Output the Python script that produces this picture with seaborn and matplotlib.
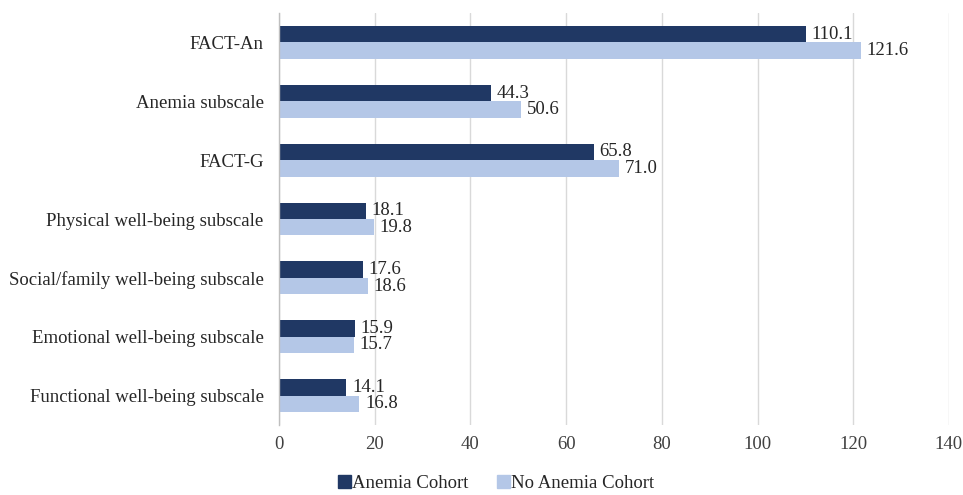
import matplotlib
matplotlib.use("Agg")
import matplotlib.pyplot as plt
from matplotlib.ticker import FixedLocator, MultipleLocator
import pandas as pd
import seaborn as sns

categories = [
    "FACT-An",
    "Anemia subscale",
    "FACT-G",
    "Physical well-being subscale",
    "Social/family well-being subscale",
    "Emotional well-being subscale",
    "Functional well-being subscale",
]
anemia = [110.1, 44.3, 65.8, 18.1, 17.6, 15.9, 14.1]
no_anemia = [121.6, 50.6, 71.0, 19.8, 18.6, 15.7, 16.8]
series_names = ["Anemia Cohort", "No Anemia Cohort"]
colors = ["#203864", "#b4c7e7"]

df = pd.DataFrame({
    "Measure": categories * 2,
    "Score": anemia + no_anemia,
    "Cohort": [series_names[0]] * len(categories) + [series_names[1]] * len(categories),
})

sns.set_theme(style="white")
plt.rcParams["font.family"] = ["Liberation Serif", "DejaVu Serif"]

fig = plt.figure(figsize=(9.63, 4.95), dpi=100)
ax = fig.add_axes([0.2897, 0.1414, 0.6957, 0.8323])

sns.barplot(data=df, x="Score", y="Measure", hue="Cohort", orient="h",
            palette=colors, width=0.56, dodge=True, ax=ax,
            saturation=1, errorbar=None, legend=False, linewidth=0)

for cont in ax.containers:
    ax.bar_label(cont, fmt="%.1f", padding=4, fontsize=13.5, color="#262626")

ax.set_xlim(0, 140)
ax.set_ylim(len(categories) - 0.5, -0.5)
ax.xaxis.set_major_locator(MultipleLocator(20))
ax.grid(axis="x", color="#d9d9d9", linewidth=1)
ax.set_axisbelow(True)
ax.set_xlabel("")
ax.set_ylabel("")

for side in ["top", "right", "bottom"]:
    ax.spines[side].set_visible(False)
ax.spines["left"].set_color("#bfbfbf")
ax.spines["left"].set_linewidth(1)

ax.tick_params(axis="x", length=0, labelsize=13.5, labelcolor="#404040", pad=8)
ax.tick_params(axis="y", which="major", length=0, labelsize=13.5, labelcolor="#262626", pad=11)
ax.yaxis.set_minor_locator(FixedLocator([i - 0.5 for i in range(len(categories) + 1)]))
ax.tick_params(axis="y", which="minor", length=5, color="#bfbfbf", width=1, direction="out")

handles = [plt.Rectangle((0, 0), 1, 1, color=c) for c in colors]
fig.legend(handles, series_names, loc="lower center", bbox_to_anchor=(0.515, -0.028),
           ncol=2, frameon=False, fontsize=13.5, handlelength=0.7, handleheight=0.7,
           handletextpad=0.05, columnspacing=1.5)

fig.savefig("out.png", dpi=100)
